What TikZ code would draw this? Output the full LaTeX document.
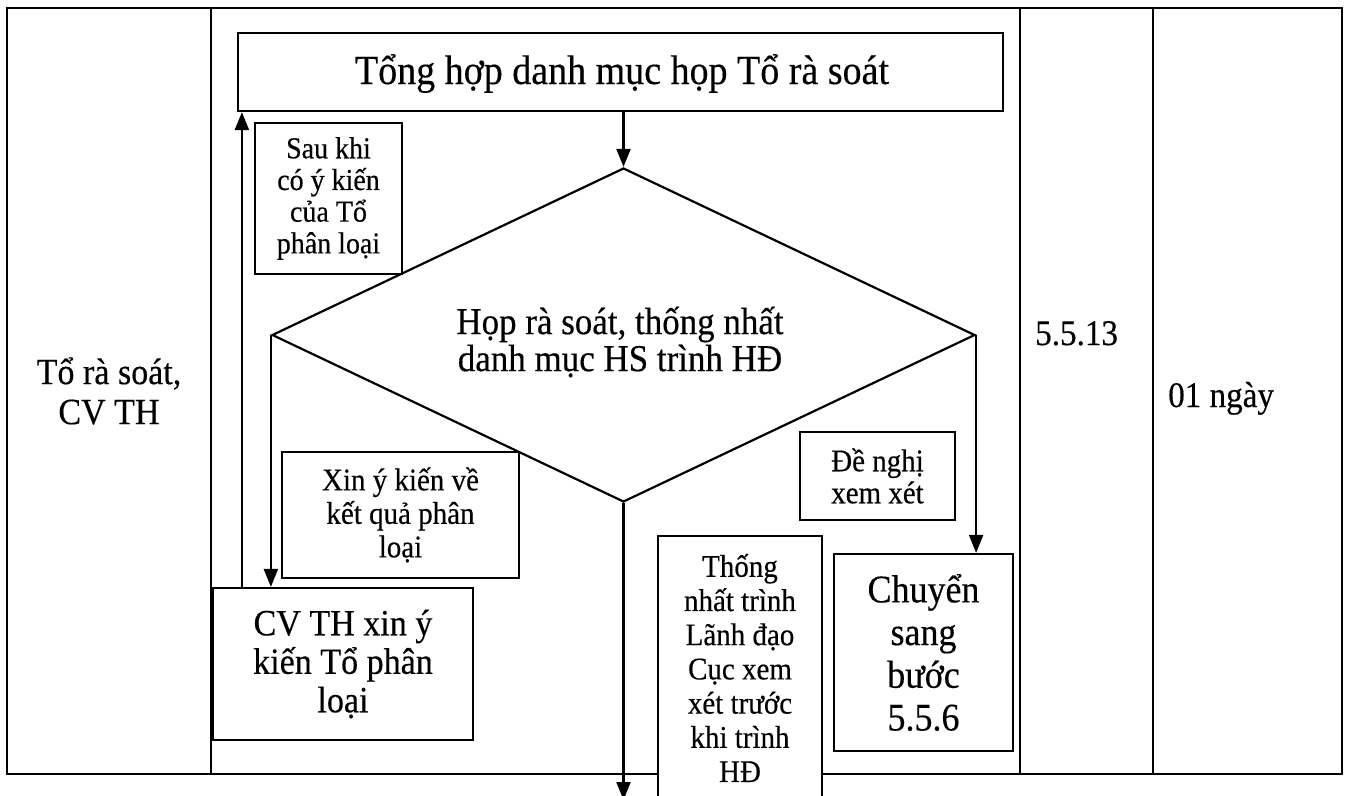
\documentclass[tikz,border=0pt]{standalone}
\usepackage{fontspec}
\setmainfont{Liberation Serif}[FakeStretch=0.92,FakeBold=0.35]
\usetikzlibrary{arrows.meta,shapes.geometric}
\newcommand{\fs}[2]{\fontsize{#1}{#2}\selectfont\lineskiplimit=-1000pt\relax}
\begin{document}
\begin{tikzpicture}[x=1pt,y=-1pt,
  tbl/.style={line width=2.8pt},
  box/.style={draw, line width=2.2pt, fill=white, inner sep=0pt, align=center},
  arr/.style={line width=2.2pt, -{Triangle[width=14pt,length=18pt]}},
  lbl/.style={inner sep=0pt, align=center},
]
\useasboundingbox (0,0) rectangle (1348,795);
% table frame
\draw[tbl] (7,8) rectangle (1342,774);
\draw[tbl] (211,8) -- (211,774);
\draw[tbl] (1020,8) -- (1020,774);
\draw[tbl] (1153,8) -- (1153,774);
% table texts
\node[lbl, font=\fs{37}{40}] (who) at (109,391) {Tổ rà soát,\\CV TH};
\node[lbl, font=\fs{36}{40}, anchor=base west] (code) at (1035,345) {5.5.13};
\node[lbl, font=\fs{36}{40}, anchor=base west] (time) at (1168,407) {01 ngày};
% flow boxes
\node[box, minimum width=765pt, minimum height=78pt] (top) at (620.5,72) {};
\node[lbl, font=\fs{41.3}{44}, anchor=base] (toptext) at (622,84) {Tổng hợp danh mục họp Tổ rà soát};
\node[draw, line width=2.2pt, diamond, inner sep=0pt, minimum width=703pt, minimum height=334pt] (d) at (623.5,335) {};
\node[lbl, font=\fs{38}{37}] (dt) at (620,342) {Họp rà soát, thống nhất\\danh mục HS trình HĐ};
\node[box, minimum width=147pt, minimum height=151pt, font=\fs{30.4}{31.7}] (sau) at (328.5,198.5) {Sau khi\\có ý kiến\\của Tổ\\phân loại};
\node[box, minimum width=237pt, minimum height=126pt, font=\fs{31.5}{33.5}] (xin) at (400.5,515) {Xin ý kiến về\\kết quả phân\\loại};
\node[box, minimum width=260pt, minimum height=152pt, font=\fs{37}{38.5}] (cv) at (343,664) {CV TH xin ý\\kiến Tổ phân\\loại};
\node[box, minimum width=155pt, minimum height=88pt, font=\fs{31.5}{32}] (dn) at (877.5,476) {Đề nghị\\xem xét};
\node[box, minimum width=179pt, minimum height=197pt, font=\fs{39.1}{42.7}] (ch) at (923.5,652.5) {Chuyển\\sang\\bước\\5.5.6};
\node[fill=white, inner sep=0pt, minimum width=164pt, minimum height=274pt] (tn) at (740,673) {};
\draw[line width=2.2pt] (tn.south west) -- (tn.north west) -- (tn.north east) -- (tn.south east);
\node[lbl, font=\fs{31.5}{34.2}] (tnt) at (740,668) {Thống\\nhất trình\\Lãnh đạo\\Cục xem\\xét trước\\khi trình\\HĐ};
% connectors
\coordinate (endp) at (623.5,800);
\draw[arr] (d.north |- top.south) -- (d.north);
\draw[arr] (d.west) -- (d.west |- cv.north);
\draw[arr] ([xshift=30pt]cv.north west) -- ([xshift=30pt]cv.north west |- top.south);
\draw[arr] (d.east) -- (d.east |- ch.north);
\draw[arr] (d.south) -- (endp);
\end{tikzpicture}
\end{document}
